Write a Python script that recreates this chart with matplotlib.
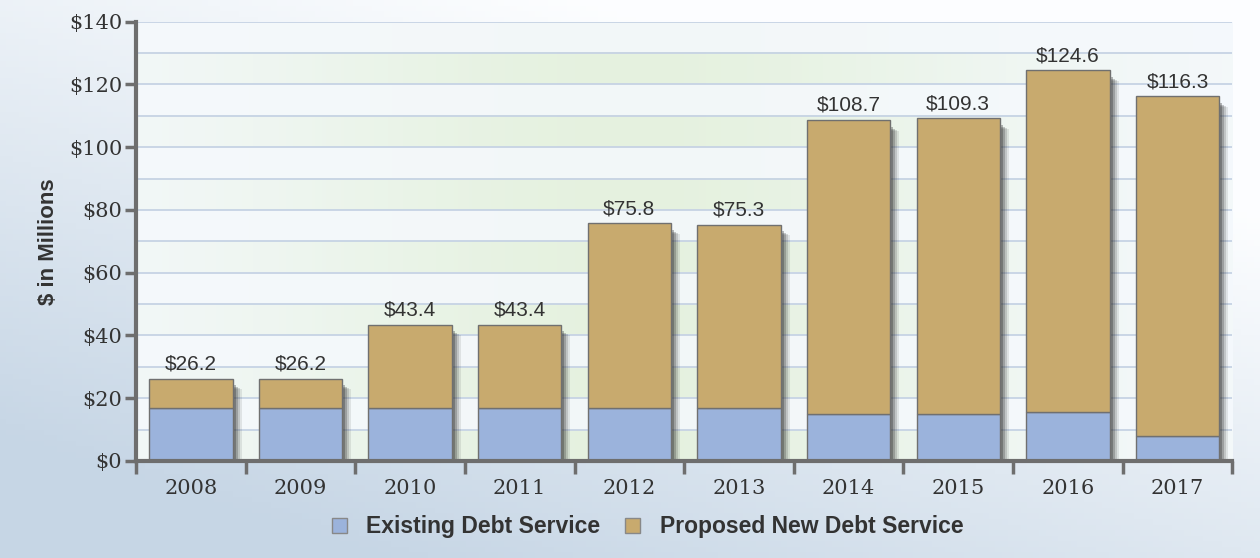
import numpy as np
import matplotlib
matplotlib.use("Agg")
import matplotlib.pyplot as plt
from matplotlib.patches import Patch
import matplotlib.transforms as mtransforms

years = ["2008", "2009", "2010", "2011", "2012", "2013", "2014", "2015", "2016", "2017"]
totals = [26.2, 26.2, 43.4, 43.4, 75.8, 75.3, 108.7, 109.3, 124.6, 116.3]
existing = [17.0, 17.0, 17.0, 17.0, 17.0, 17.0, 14.8, 14.8, 15.6, 7.8]
proposed = [t - e for t, e in zip(totals, existing)]

blue = "#9bb3dc"
tan = "#c8aa6e"
edge = "#707070"
txt = "#333333"

fig = plt.figure(figsize=(12.6, 5.58), dpi=100)

# figure background: soft gradient, light blue lower-left to white upper-right
bg = fig.add_axes([0, 0, 1, 1], zorder=-10)
gx, gy = np.meshgrid(np.linspace(0, 1, 200), np.linspace(0, 1, 100))
t = np.clip(0.65 * gx + 0.9 * gy - 0.2, 0, 1)
c0 = np.array([0.78, 0.84, 0.90])
c1 = np.array([0.99, 0.995, 1.0])
img = c0[None, None, :] * (1 - t[..., None]) + c1[None, None, :] * t[..., None]
bg.imshow(img, origin="lower", extent=[0, 1, 0, 1], aspect="auto")
bg.axis("off")

ax = fig.add_axes([0.108, 0.174, 0.870, 0.787])
n = len(years)
x = np.arange(n)
ax.set_xlim(-0.5, n - 0.5)
ax.set_ylim(0, 140)

# plot area: white with alternating pale green bands
px = np.linspace(0, 1, 300)
green_w = np.exp(-((px - 0.45) / 0.35) ** 2)
band = np.ones((140, 300, 3))
for yy in range(140):
    if (yy // 10) % 2 == 0:
        w = 0.6 * green_w
    else:
        w = 0.08 * green_w
    g = np.array([0.86, 0.93, 0.80])
    band[yy] = (1 - w[:, None]) * np.array([0.96, 0.975, 0.99]) + w[:, None] * g
ax.imshow(band, origin="lower", extent=[-0.5, n - 0.5, 0, 140], aspect="auto", zorder=0)

for yv in range(10, 141, 10):
    ax.axhline(yv, color="#c6d3e4", lw=1.3, zorder=1)

w = 0.76
# soft drop shadows behind the bars
for dx, dy, a in [(9, -6, 0.10), (7, -5, 0.16), (5, -4, 0.24), (3, -2, 0.32)]:
    off = mtransforms.offset_copy(ax.transData, fig=fig, x=dx, y=dy, units="dots")
    ax.bar(x, np.array(totals) - 1.5, w, color="#2a2a2a", alpha=a,
           transform=off, zorder=2, lw=0)

ax.bar(x, existing, w, color=blue, edgecolor=edge, lw=1.0, zorder=3)
ax.bar(x, proposed, w, bottom=existing, color=tan, edgecolor=edge, lw=1.0, zorder=3)

for xi, tv in zip(x, totals):
    ax.text(xi, tv + 1.6, f"${tv}", ha="center", va="bottom",
            fontsize=15, family="Liberation Sans", color=txt, zorder=4)

ax.set_yticks(np.arange(0, 141, 20))
ax.set_yticklabels([f"${v}" for v in range(0, 141, 20)],
                   family="DejaVu Serif", fontsize=15, color=txt)
ax.set_xticks(x)
ax.set_xticklabels(years, family="DejaVu Serif", fontsize=15, color=txt)
ax.tick_params(axis="x", length=0, pad=13)
ax.tick_params(axis="y", length=8, width=2.5, color="#6e6e6e", pad=2)

# tick marks on the category boundaries
ax.set_xticks(np.arange(-0.5, n, 1.0), minor=True)
ax.tick_params(axis="x", which="minor", length=9, width=2.5, color="#6e6e6e")

for s in ["top", "right"]:
    ax.spines[s].set_visible(False)
for s in ["left", "bottom"]:
    ax.spines[s].set_color("#6e6e6e")
    ax.spines[s].set_linewidth(3)
    ax.spines[s].set_zorder(5)

ax.set_ylabel("$ in Millions", family="Liberation Sans", fontsize=16,
              fontweight="bold", color=txt, labelpad=7)

handles = [Patch(facecolor=blue, edgecolor="#888888", label="Existing Debt Service"),
           Patch(facecolor=tan, edgecolor="#888888", label="Proposed New Debt Service")]
fig.legend(handles=handles, loc="center", bbox_to_anchor=(0.514, 0.056), ncol=2,
           frameon=False, prop={"family": "Liberation Sans", "weight": "bold", "size": 16.5},
           handlelength=0.65, handleheight=0.65, handletextpad=0.85, columnspacing=1.1,
           labelcolor=txt)

fig.savefig("out.png", dpi=100)
